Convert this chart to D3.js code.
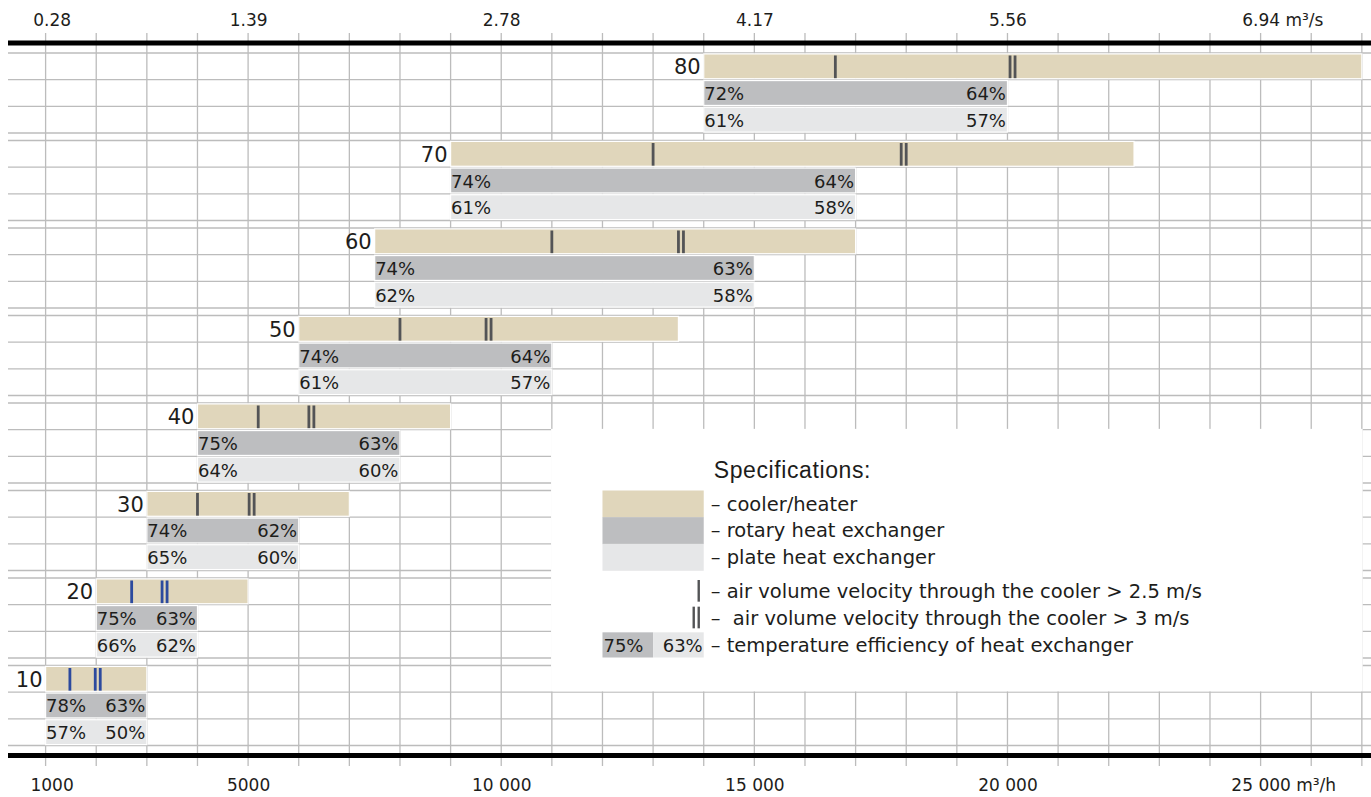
<!DOCTYPE html>
<html>
<head>
<meta charset="utf-8">
<script src="https://cdn.jsdelivr.net/npm/d3@7"></script>
<style>
  html, body { margin: 0; padding: 0; background: #fff; }
  svg { display: block; }
  text { font-family: "DejaVu Sans", Verdana, sans-serif; fill: #1d1d1b; }
</style>
</head>
<body>
<div id="chart"></div>
<script>
// unit sizes, top to bottom
const groups = [80, 70, 60, 50, 40, 30, 20, 10];
// airflow ranges, m3/h
const coolerStart = [14000, 9000, 7500, 6000, 4000, 3000, 2000, 1000];
const coolerEnd = [27000, 22500, 17000, 13500, 9000, 7000, 5000, 3000];
const exchangerEnd = [20000, 17000, 15000, 11000, 8000, 6000, 4000, 3000];
// temperature efficiency at both ends
const rotaryLow = [72, 74, 74, 74, 75, 74, 75, 78];
const rotaryHigh = [64, 64, 63, 64, 63, 62, 63, 63];
const plateLow = [61, 61, 62, 61, 64, 65, 66, 57];
const plateHigh = [57, 58, 58, 57, 60, 60, 62, 50];
// airflow where the cooler velocity passes 2.5 m/s and 3 m/s
const velocity25 = [16600, 13000, 11000, 8000, 5200, 4000, 2700, 1480];
const velocity3 = [20100, 17950, 13550, 9750, 6250, 5070, 3350, 2030];
// axes
const flowTicks = [1000, 5000, 10000, 15000, 20000, 25000];
const flowLabels = ["1000", "5000", "10 000", "15 000", "20 000", "25 000"];
const secLabels = ["0.28", "1.39", "2.78", "4.17", "5.56", "6.94"];

const W = 1371, H = 797;
const COOLER = "#e0d6bb", ROTARY = "#bdbec0", PLATE = "#e6e7e8";
const GRID = "#bcbcbc", MARK = "#535456", BLUE = "#2c4a9e";

const svg = d3.select("#chart").append("svg")
  .attr("width", W).attr("height", H);

const x = d3.scaleLinear().domain([1000, 25000]).range([45.6, 1260.6]);
const y = d3.scaleBand().domain(groups).range([53, 745.5]).paddingInner(0.0857);
const rowH = y.bandwidth() / 3;
const rowTop = (g, k) => y(g) + k * rowH;

// --- grid ---
const grid = svg.append("g");
grid.selectAll("line.v")
  .data(d3.range(1000, 27001, 1000))
  .join("line")
    .attr("x1", d => x(d)).attr("x2", d => x(d))
    .attr("y1", 33).attr("y2", 766)
    .attr("stroke", GRID).attr("stroke-width", 1.3);

const hLines = [];
groups.forEach(g => { for (let k = 0; k <= 3; k++) hLines.push(rowTop(g, k)); });
grid.selectAll("line.h")
  .data(hLines)
  .join("line")
    .attr("x1", 8).attr("x2", W)
    .attr("y1", d => d).attr("y2", d => d)
    .attr("stroke", GRID).attr("stroke-width", 1.3);

// clear area for the legend
svg.append("rect")
  .attr("x", x(11000) - 0.8)
  .attr("y", rowTop(40, 1) - 0.8)
  .attr("width", x(27000) - x(11000) + 1.6)
  .attr("height", rowTop(10, 1) - rowTop(40, 1))
  .attr("fill", "#fff");

// --- thick axis lines ---
[43, 755.5].forEach(yy => {
  svg.append("line")
    .attr("x1", 8).attr("x2", W)
    .attr("y1", yy).attr("y2", yy)
    .attr("stroke", "#000").attr("stroke-width", 5);
});

// --- axes labels ---
function styleAxis(g, unit) {
  g.select(".domain").remove();
  g.attr("font-family", null).attr("font-size", null);
  g.selectAll(".tick text")
    .attr("dy", 0)
    .style("font-size", "17px");
  g.selectAll(".tick text").filter((d, i) => i === 0).attr("dx", 6);
  g.selectAll(".tick text").filter((d, i, n) => i === n.length - 1).each(function() {
    const w = this.getComputedTextLength();
    d3.select(this).attr("text-anchor", "start").attr("x", -w / 2)
      .append("tspan").text(unit);
  });
}

svg.append("g")
  .attr("transform", "translate(0,26)")
  .call(d3.axisTop(x).tickValues(flowTicks).tickSize(0).tickPadding(0)
    .tickFormat((d, i) => secLabels[i]))
  .call(g => styleAxis(g, " m\u00B3/s"));

svg.append("g")
  .attr("transform", "translate(0,791)")
  .call(d3.axisBottom(x).tickValues(flowTicks).tickSize(0).tickPadding(0)
    .tickFormat((d, i) => flowLabels[i]))
  .call(g => styleAxis(g, " m\u00B3/h"));

// --- bars ---
const rows = groups.map((g, i) => ({
  g, i,
  s: coolerStart[i], ce: coolerEnd[i], xe: exchangerEnd[i]
}));

const bars = svg.append("g");
const barSpec = [
  { k: 0, fill: COOLER, end: d => d.ce },
  { k: 1, fill: ROTARY, end: d => d.xe },
  { k: 2, fill: PLATE, end: d => d.xe }
];
barSpec.forEach(b => {
  bars.selectAll(null)
    .data(rows)
    .join("rect")
      .attr("x", d => x(d.s))
      .attr("y", d => rowTop(d.g, b.k) + 0.9)
      .attr("width", d => x(b.end(d)) - x(d.s))
      .attr("height", rowH - 1.8)
      .attr("fill", b.fill)
      .attr("stroke", "#fff")
      .attr("stroke-width", 1.2);
});

// group labels
svg.append("g").selectAll("text")
  .data(rows)
  .join("text")
    .attr("x", d => x(d.s) - 3)
    .attr("y", d => rowTop(d.g, 0) + rowH / 2 + 8)
    .attr("text-anchor", "end")
    .style("font-size", "21px")
    .text(d => d.g);

// efficiency labels
const effSpec = [
  { k: 1, low: rotaryLow, high: rotaryHigh },
  { k: 2, low: plateLow, high: plateHigh }
];
const effG = svg.append("g").style("font-size", "18px");
effSpec.forEach(e => {
  effG.selectAll(null).data(rows).join("text")
    .attr("x", d => x(d.s) + 0.5)
    .attr("y", d => rowTop(d.g, e.k) + rowH / 2 + 7)
    .text(d => e.low[d.i] + "%");
  effG.selectAll(null).data(rows).join("text")
    .attr("x", d => x(d.xe) - 1.5)
    .attr("y", d => rowTop(d.g, e.k) + rowH / 2 + 7)
    .attr("text-anchor", "end")
    .text(d => e.high[d.i] + "%");
});

// velocity markers
const markG = svg.append("g");
function marker(cx, top, color) {
  markG.append("line")
    .attr("x1", cx).attr("x2", cx)
    .attr("y1", top + 2.5).attr("y2", top + rowH - 1.5)
    .attr("stroke", color).attr("stroke-width", 2.8);
}
rows.forEach(d => {
  const c = d.g <= 20 ? BLUE : MARK;
  const top = rowTop(d.g, 0);
  marker(x(velocity25[d.i]), top, c);
  marker(x(velocity3[d.i]) - 2.5, top, c);
  marker(x(velocity3[d.i]) + 2.5, top, c);
});

// --- legend ---
const lg = svg.append("g");
const lx0 = x(12000), lx1 = x(14000), lxm = x(13000);
const tx = lx1 + 7;

lg.append("text")
  .attr("x", lx1 + 10)
  .attr("y", rowTop(40, 2) + rowH / 2 + 8)
  .style("font-family", "'Liberation Sans', Arial, sans-serif")
  .style("font-size", "23px")
  .style("letter-spacing", "0.6px")
  .text("Specifications:");

const swatches = [
  { fill: COOLER, label: "\u2013 cooler/heater" },
  { fill: ROTARY, label: "\u2013 rotary heat exchanger" },
  { fill: PLATE, label: "\u2013 plate heat exchanger" }
];
swatches.forEach((s, k) => {
  lg.append("rect")
    .attr("x", lx0).attr("y", rowTop(30, k))
    .attr("width", lx1 - lx0).attr("height", rowH + 0.3)
    .attr("fill", s.fill);
});

const legendLabels = [
  { top: rowTop(30, 0), text: swatches[0].label },
  { top: rowTop(30, 1), text: swatches[1].label },
  { top: rowTop(30, 2), text: swatches[2].label },
  { top: rowTop(20, 0), text: "\u2013 air volume velocity through the cooler > 2.5 m/s" },
  { top: rowTop(20, 1), text: "\u2013  air volume velocity through the cooler > 3 m/s" },
  { top: rowTop(20, 2), text: "\u2013 temperature efficiency of heat exchanger" }
];
lg.selectAll("text.item")
  .data(legendLabels)
  .join("text")
    .attr("class", "item")
    .attr("x", tx)
    .attr("y", d => d.top + rowH / 2 + 7)
    .attr("xml:space", "preserve")
    .style("white-space", "pre")
    .style("font-size", "19.5px")
    .text(d => d.text);

// legend markers
function legendMarker(cx, top) {
  lg.append("line")
    .attr("x1", cx).attr("x2", cx)
    .attr("y1", top + 2).attr("y2", top + rowH - 3)
    .attr("stroke", MARK).attr("stroke-width", 2.4);
}
legendMarker(lx1 - 5, rowTop(20, 0));
legendMarker(lx1 - 10, rowTop(20, 1));
legendMarker(lx1 - 5, rowTop(20, 1));

// efficiency sample
const et = rowTop(20, 2) + 1;
lg.append("rect").attr("x", lx0).attr("y", et)
  .attr("width", lxm - lx0).attr("height", rowH - 1.5).attr("fill", ROTARY);
lg.append("rect").attr("x", lxm).attr("y", et)
  .attr("width", lx1 - lxm).attr("height", rowH - 1.5).attr("fill", PLATE);
lg.append("text").attr("x", lx0 + 1).attr("y", rowTop(20, 2) + rowH / 2 + 7)
  .style("font-size", "18px").text("75%");
lg.append("text").attr("x", lx1 - 1).attr("y", rowTop(20, 2) + rowH / 2 + 7)
  .attr("text-anchor", "end").style("font-size", "18px").text("63%");
</script>
</body>
</html>
